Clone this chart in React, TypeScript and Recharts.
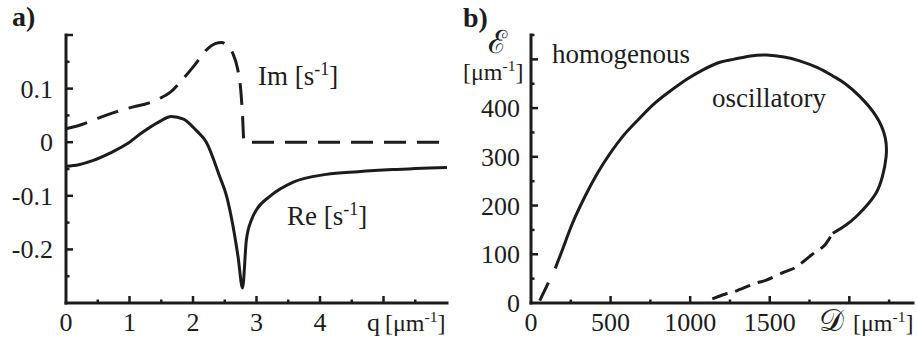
import React from 'react';
import { LineChart, Line, XAxis, YAxis } from 'recharts';

// panel a) dispersion, Re and Im parts vs q
const reQ = [0, 0.2, 0.43, 0.7, 0.95, 1.2, 1.45, 1.66, 1.85, 2.05, 2.21, 2.42, 2.53, 2.62, 2.71, 2.78, 2.84, 2.92, 3.0, 3.21, 3.57, 4.1, 4.6, 5.14, 6.0];
const reVal = [-0.045, -0.042, -0.034, -0.02, -0.004, 0.018, 0.037, 0.048, 0.043, 0.022, 0, -0.064, -0.101, -0.15, -0.214, -0.272, -0.183, -0.145, -0.126, -0.101, -0.075, -0.06, -0.055, -0.051, -0.047];
const imQ = [0, 0.25, 0.53, 0.8, 1.06, 1.3, 1.48, 1.64, 1.82, 2.0, 2.21, 2.35, 2.45, 2.55, 2.63, 2.7, 2.75, 2.78, 2.8, 2.83, 6.0];
const imVal = [0.025, 0.033, 0.046, 0.057, 0.066, 0.073, 0.082, 0.093, 0.115, 0.14, 0.172, 0.184, 0.186, 0.178, 0.165, 0.138, 0.1, 0.05, 0.005, 0, 0];

const aXTicks = [0, 0.5, 1, 1.5, 2, 2.5, 3, 3.5, 4, 4.5, 5, 5.5];
const aXMajor = [0, 1, 2, 3, 4, 5];
const aXLabels = ['0', '1', '2', '3', '4'];
const aYTicks = [-0.3, -0.25, -0.2, -0.15, -0.1, -0.05, 0, 0.05, 0.1, 0.15, 0.2];
const aYMajor = [-0.2, -0.1, 0, 0.1, 0.2];
const aYLabelVals = [-0.2, -0.1, 0, 0.1];
const aYLabels = ['-0.2', '-0.1', '0', '0.1'];

// panel b) phase diagram E vs D
const leadD = [55, 152];
const leadE = [5, 71];
const loopD = [152, 204, 256, 308, 360, 412, 464, 569, 673, 771, 875, 979, 1083, 1187, 1271, 1380, 1479, 1590, 1687, 1800, 1896, 1970, 2062, 2167, 2225, 2231, 2208, 2167, 2104, 2042, 1979, 1896];
const loopE = [71, 115, 160, 198, 232, 263, 291, 339, 376, 408, 435, 459, 479, 494, 500, 507, 509, 505, 497, 483, 466, 451, 425, 384, 340, 300, 260, 225, 198, 177, 160, 143];
const tailD = [1896, 1860, 1833, 1760, 1667, 1594, 1479, 1406, 1292, 1219, 1150, 1094];
const tailE = [143, 125, 115, 98, 74, 64, 47, 40, 25, 18, 10, 3];

const bXTicks = [0, 250, 500, 750, 1000, 1250, 1500, 1750, 2000, 2250];
const bXMajor = [0, 500, 1000, 1500, 2000];
const bXLabels = ['0', '500', '1000', '1500'];
const bYTicks = [0, 50, 100, 150, 200, 250, 300, 350, 400, 450, 500, 550];
const bYMajor = [0, 100, 200, 300, 400, 500];
const bYLabelVals = [0, 100, 200, 300, 400];
const bYLabels = ['0', '100', '200', '300', '400'];

const zip = (xs: number[], ys: number[]) => xs.map((x, i) => ({ x, y: ys[i] }));

const INK = '#1c1c1c';
const FONT = '"Liberation Serif", "Times New Roman", serif';

const near = (a: number, b: number) => Math.abs(a - b) < 1e-6;
const has = (arr: number[], v: number) => arr.some((a) => near(a, v));

const makeXTick = (majors: number[], labels: string[]) => (props: any) => {
  const { x, y, payload } = props;
  const v = payload.value;
  const major = has(majors, v);
  const idx = majors.findIndex((m) => near(m, v));
  const label = idx >= 0 && idx < labels.length ? labels[idx] : null;
  return (
    <g>
      {v !== 0 && <line x1={x} x2={x} y1={y} y2={y - (major ? 7 : 3.5)} stroke={INK} strokeWidth={2.5} />}
      {label && (
        <text x={x} y={y + 28} textAnchor="middle" fontFamily={FONT} fontSize={26} fill={INK}>
          {label}
        </text>
      )}
    </g>
  );
};

const makeYTick = (majors: number[], labelVals: number[], labels: string[], gap: number, bottom: number) => (props: any) => {
  const { x, y, payload } = props;
  const v = payload.value;
  const major = has(majors, v);
  const idx = labelVals.findIndex((m) => near(m, v));
  return (
    <g>
      {!near(v, bottom) && <line x1={x} x2={x + (major ? 7 : 3.5)} y1={y} y2={y} stroke={INK} strokeWidth={2.5} />}
      {idx >= 0 && (
        <text x={x - gap} y={y + 9} textAnchor="end" fontFamily={FONT} fontSize={26} fill={INK}>
          {labels[idx]}
        </text>
      )}
    </g>
  );
};

const axisLineStyle = { stroke: INK, strokeWidth: 3, strokeLinecap: 'square' as const };

const PanelA = () => (
  <LineChart width={460} height={344} margin={{ top: 35, right: 13, left: 0, bottom: 0 }}>
    <XAxis
      type="number"
      dataKey="x"
      domain={[0, 6]}
      ticks={aXTicks}
      interval={0}
      height={41}
      tickLine={false}
      tickSize={0}
      tickMargin={0}
      axisLine={axisLineStyle}
      tick={makeXTick(aXMajor, aXLabels)}
    />
    <YAxis
      type="number"
      domain={[-0.3, 0.2]}
      ticks={aYTicks}
      interval={0}
      width={66}
      tickLine={false}
      tickSize={0}
      tickMargin={0}
      axisLine={axisLineStyle}
      tick={makeYTick(aYMajor, aYLabelVals, aYLabels, 13, -0.3)}
    />
    <Line
      data={zip(imQ, imVal)}
      dataKey="y"
      type="monotone"
      stroke={INK}
      strokeWidth={3}
      strokeDasharray="22 11"
      dot={false}
      activeDot={false}
      isAnimationActive={false}
    />
    <Line
      data={zip(reQ, reVal)}
      dataKey="y"
      type="monotone"
      stroke={INK}
      strokeWidth={3}
      dot={false}
      activeDot={false}
      isAnimationActive={false}
    />
  </LineChart>
);

const PanelB = () => (
  <LineChart width={457} height={344} margin={{ top: 35, right: 4, left: 0, bottom: 0 }}>
    <XAxis
      type="number"
      dataKey="x"
      domain={[0, 2400]}
      ticks={bXTicks}
      interval={0}
      height={41}
      tickLine={false}
      tickSize={0}
      tickMargin={0}
      axisLine={axisLineStyle}
      tick={makeXTick(bXMajor, bXLabels)}
    />
    <YAxis
      type="number"
      domain={[0, 550]}
      ticks={bYTicks}
      interval={0}
      width={71}
      tickLine={false}
      tickSize={0}
      tickMargin={0}
      axisLine={axisLineStyle}
      tick={makeYTick(bYMajor, bYLabelVals, bYLabels, 11, 0)}
    />
    <Line
      data={zip(leadD, leadE)}
      dataKey="y"
      type="linear"
      stroke={INK}
      strokeWidth={3}
      strokeDasharray="20 16"
      dot={false}
      activeDot={false}
      isAnimationActive={false}
    />
    <Line
      data={zip(loopD, loopE)}
      dataKey="y"
      type="natural"
      stroke={INK}
      strokeWidth={3}
      dot={false}
      activeDot={false}
      isAnimationActive={false}
    />
    <Line
      data={zip(tailD, tailE)}
      dataKey="y"
      type="natural"
      stroke={INK}
      strokeWidth={3}
      strokeDasharray="0 4 16 4"
      dot={false}
      activeDot={false}
      isAnimationActive={false}
    />
  </LineChart>
);

const Unit = ({ x, y, size = 24 }: { x: number; y: number; size?: number }) => (
  <text x={x} y={y} fontFamily={FONT} fontSize={size} fill={INK}>
    [μm<tspan dy={-9} fontSize={size * 0.65}>-1</tspan>
    <tspan dy={9}>]</tspan>
  </text>
);

const PerSecond = ({ x, y, name }: { x: number; y: number; name: string }) => (
  <text x={x} y={y} fontFamily={FONT} fontSize={27} fill={INK}>
    {name} [s<tspan dy={-10} fontSize={18}>-1</tspan>
    <tspan dy={10}>]</tspan>
  </text>
);

export default function App() {
  return (
    <div style={{ position: 'absolute', left: 0, top: 0, width: 917, height: 344, background: '#fff' }}>
      <div style={{ position: 'absolute', left: 0, top: 0 }}>
        <PanelA />
      </div>
      <div style={{ position: 'absolute', left: 460, top: 0 }}>
        <PanelB />
      </div>
      <svg width={917} height={344} style={{ position: 'absolute', left: 0, top: 0, pointerEvents: 'none' }}>
        <text x={12} y={26} fontFamily={FONT} fontSize={28} fontWeight="bold" fill={INK}>a)</text>
        <text x={463} y={27} fontFamily={FONT} fontSize={28} fontWeight="bold" fill={INK}>b)</text>
        <PerSecond x={258} y={85} name="Im" />
        <PerSecond x={287} y={225} name="Re" />
        <text x={367} y={331} fontFamily={FONT} fontSize={26} fill={INK}>q</text>
        <Unit x={385} y={331} />
        <text x={488} y={53} fontFamily={FONT} fontSize={32} fill={INK}>ℰ</text>
        <Unit x={463} y={80} />
        <text x={552} y={63} fontFamily={FONT} fontSize={27} fill={INK}>homogenous</text>
        <text x={712} y={107} fontFamily={FONT} fontSize={27} fill={INK}>oscillatory</text>
        <text x={819} y={331} fontFamily={FONT} fontSize={31} fill={INK}>𝒟</text>
        <Unit x={853} y={331} />
      </svg>
    </div>
  );
}
